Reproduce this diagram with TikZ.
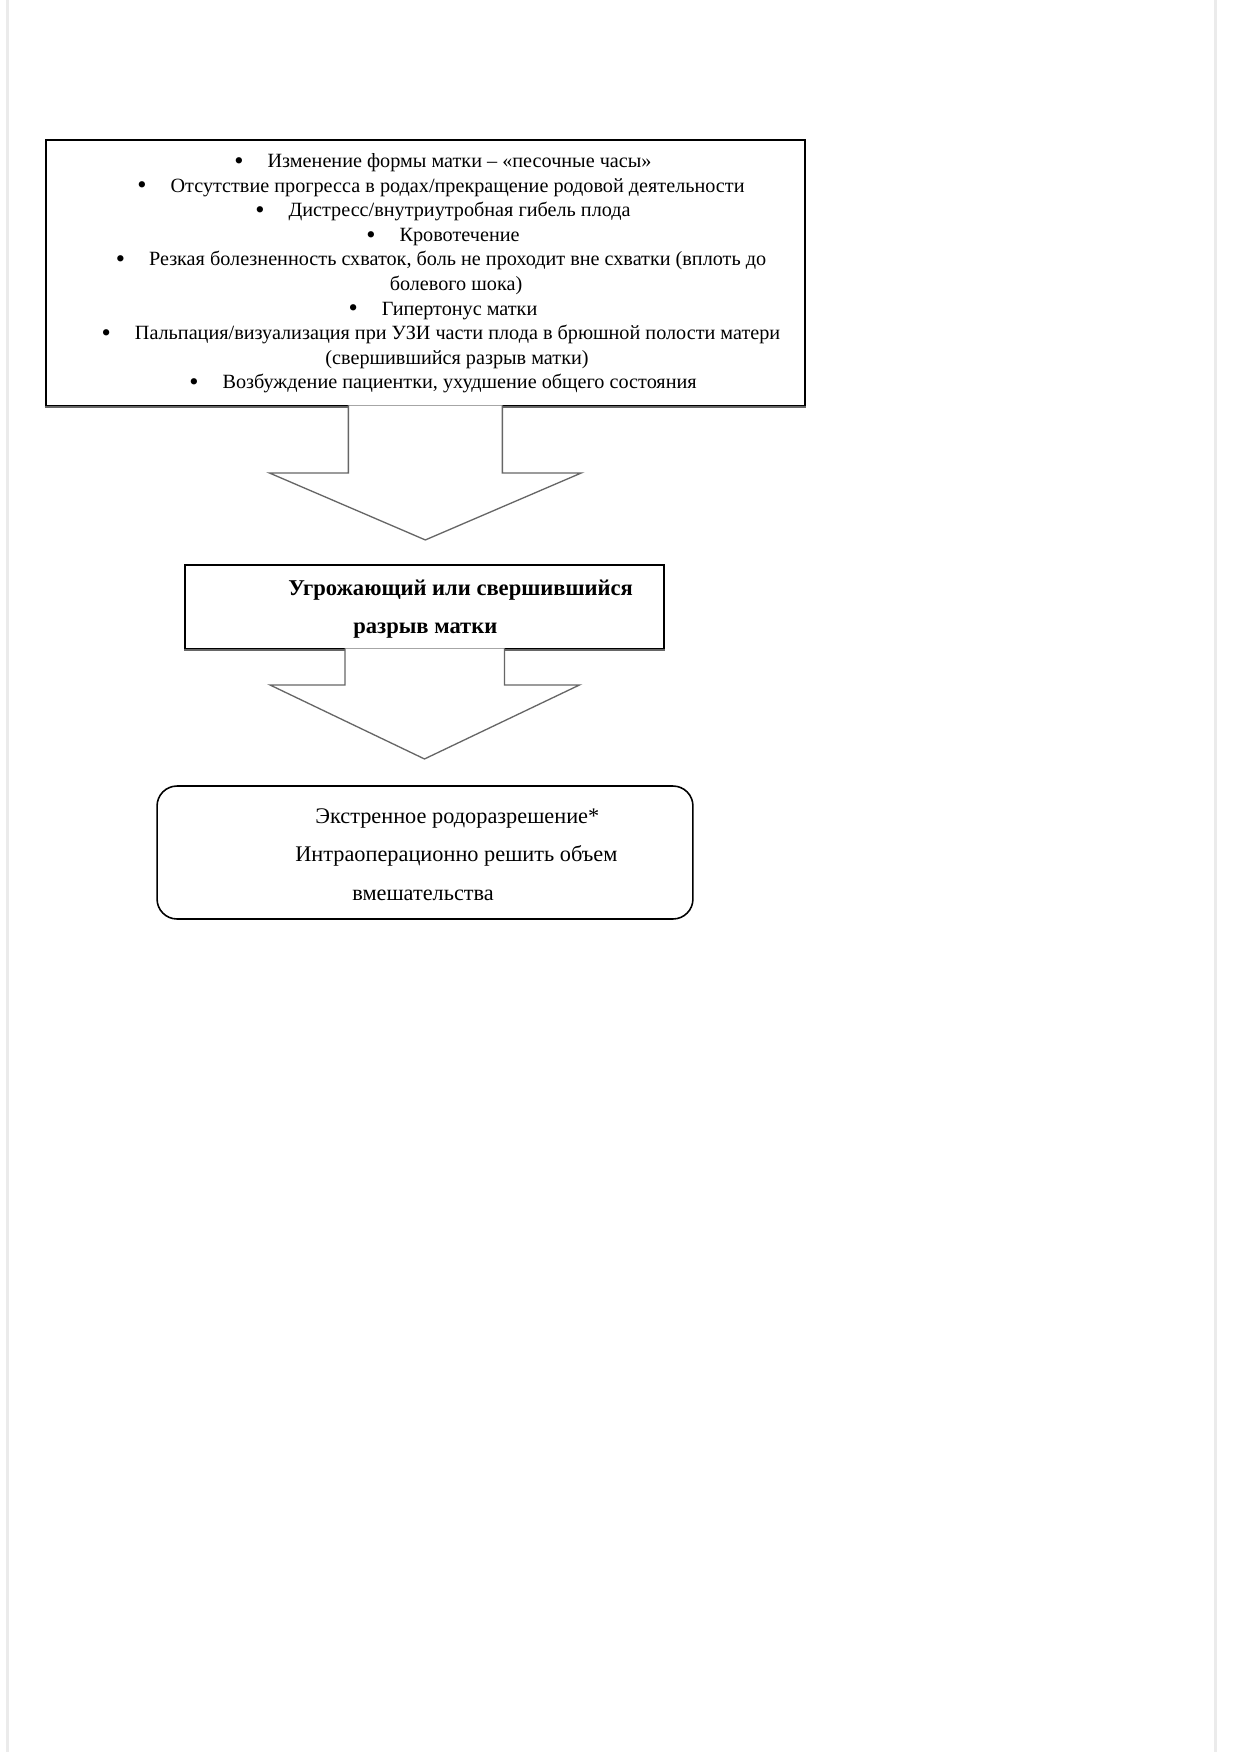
\documentclass[tikz,border=0pt]{standalone}
\usepackage{fontspec}
\setmainfont{Liberation Serif}
\usepackage{xcolor}
\usetikzlibrary{calc}

\definecolor{pagegray}{HTML}{EBEBEB}
\definecolor{stemgray}{HTML}{666666}
\newcommand{\bl}{\raisebox{-0.2ex}{\fontsize{15pt}{15pt}\selectfont\textbullet}\hspace{0.48cm}}

\begin{document}
\begin{tikzpicture}%
                [x={(0.02cm, 0cm)},
                y={(0cm, -0.02cm)},
                frame/.style={draw=black, line width=1.1pt, fill=white, inner sep=0pt},
                rframe/.style={draw=black, line width=0.9pt, fill=white, rounded corners=0.4cm, inner sep=0pt},
                harrow/.style={draw=stemgray, line width=0.75pt, fill=white, line join=miter},
                bottomline/.style={draw=stemgray, line width=1.1pt},
                txt/.style={anchor=base, inner sep=0pt, font=\fontsize{11.5pt}{14pt}\selectfont},
                btxt/.style={anchor=base west, inner sep=0pt, font=\fontsize{12.85pt}{16pt}\selectfont\bfseries},
                rtxt/.style={anchor=base west, inner sep=0pt, font=\fontsize{12.7pt}{16pt}\selectfont}]

            \useasboundingbox (0,0) rectangle (1237,1752);
            \fill[white] (0,0) rectangle (1237,1752);
            %% Page edges
            \fill[pagegray] (6,0) rectangle (9.3,1752);
            \fill[pagegray] (1213.5,0) rectangle (1216.8,1752);
            %%
            %% Drawing the boxes
            %%
            \node[frame, minimum width=15.19cm, minimum height=5.32cm] (signs) at (425.35, 273) {};
            \draw[bottomline] (signs.south west) -- (signs.south east);
            \node[frame, minimum width=9.58cm, minimum height=1.68cm] (rupture) at (424.5, 607) {};
            \draw[bottomline] (rupture.south west) -- (rupture.south east);
            \node[rframe, minimum width=10.72cm, minimum height=2.66cm] (delivery) at (425, 852.5) {};
            %%
            %% Drawing the block arrows
            %%
            \filldraw[harrow] ($(signs.south)+(-77,-1.5)$) -- ++(0,67.5) -- ++(-79,0)
                -- ($(signs.south)+(0,133)$) -- ++(156,-67) -- ++(-79,0) -- ++(0,-67.5);
            \filldraw[harrow] ($(rupture.south)+(-79.5,-1.5)$) -- ++(0,36.5) -- ++(-75,0)
                -- ($(rupture.south)+(0,109)$) -- ++(155,-74) -- ++(-75,0) -- ++(0,-36.5);
            %%
            %% Signs
            %%
            \node[txt] (s1) at (443, 167.5) {\bl Изменение формы матки – «песочные часы»};
            \node[txt] (s2) at (441, 192.1) {\bl Отсутствие прогресса в родах/прекращение родовой деятельности};
            \node[txt] (s3) at (443, 216.7) {\bl Дистресс/внутриутробная гибель плода};
            \node[txt] (s4) at (443, 241.3) {\bl Кровотечение};
            \node[txt] (s5) at (441, 265.9) {\bl Резкая болезненность схваток, боль не проходит вне схватки (вплоть до};
            \node[txt] (s5b) at (456, 290.5) {болевого шока)};
            \node[txt] (s6) at (443, 315.1) {\bl Гипертонус матки};
            \node[txt] (s7) at (441, 339.7) {\bl Пальпация/визуализация при УЗИ части плода в брюшной полости матери};
            \node[txt] (s7b) at (457, 364.3) {(свершившийся разрыв матки)};
            \node[txt] (s8) at (443, 388.9) {\bl Возбуждение пациентки, ухудшение общего состояния};
            %%
            %% Diagnosis
            %%
            \node[btxt] (r1) at (288, 595) {Угрожающий или свершившийся};
            \node[btxt] (r2) at (353, 633) {разрыв матки};
            %%
            %% Management
            %%
            \node[rtxt] (d1) at (315, 823.5) {Экстренное родоразрешение*};
            \node[rtxt] (d2) at (295, 861.5) {Интраоперационно решить объем};
            \node[rtxt] (d3) at (352, 900.5) {вмешательства};
            %%
            \end{tikzpicture}
\end{document}
